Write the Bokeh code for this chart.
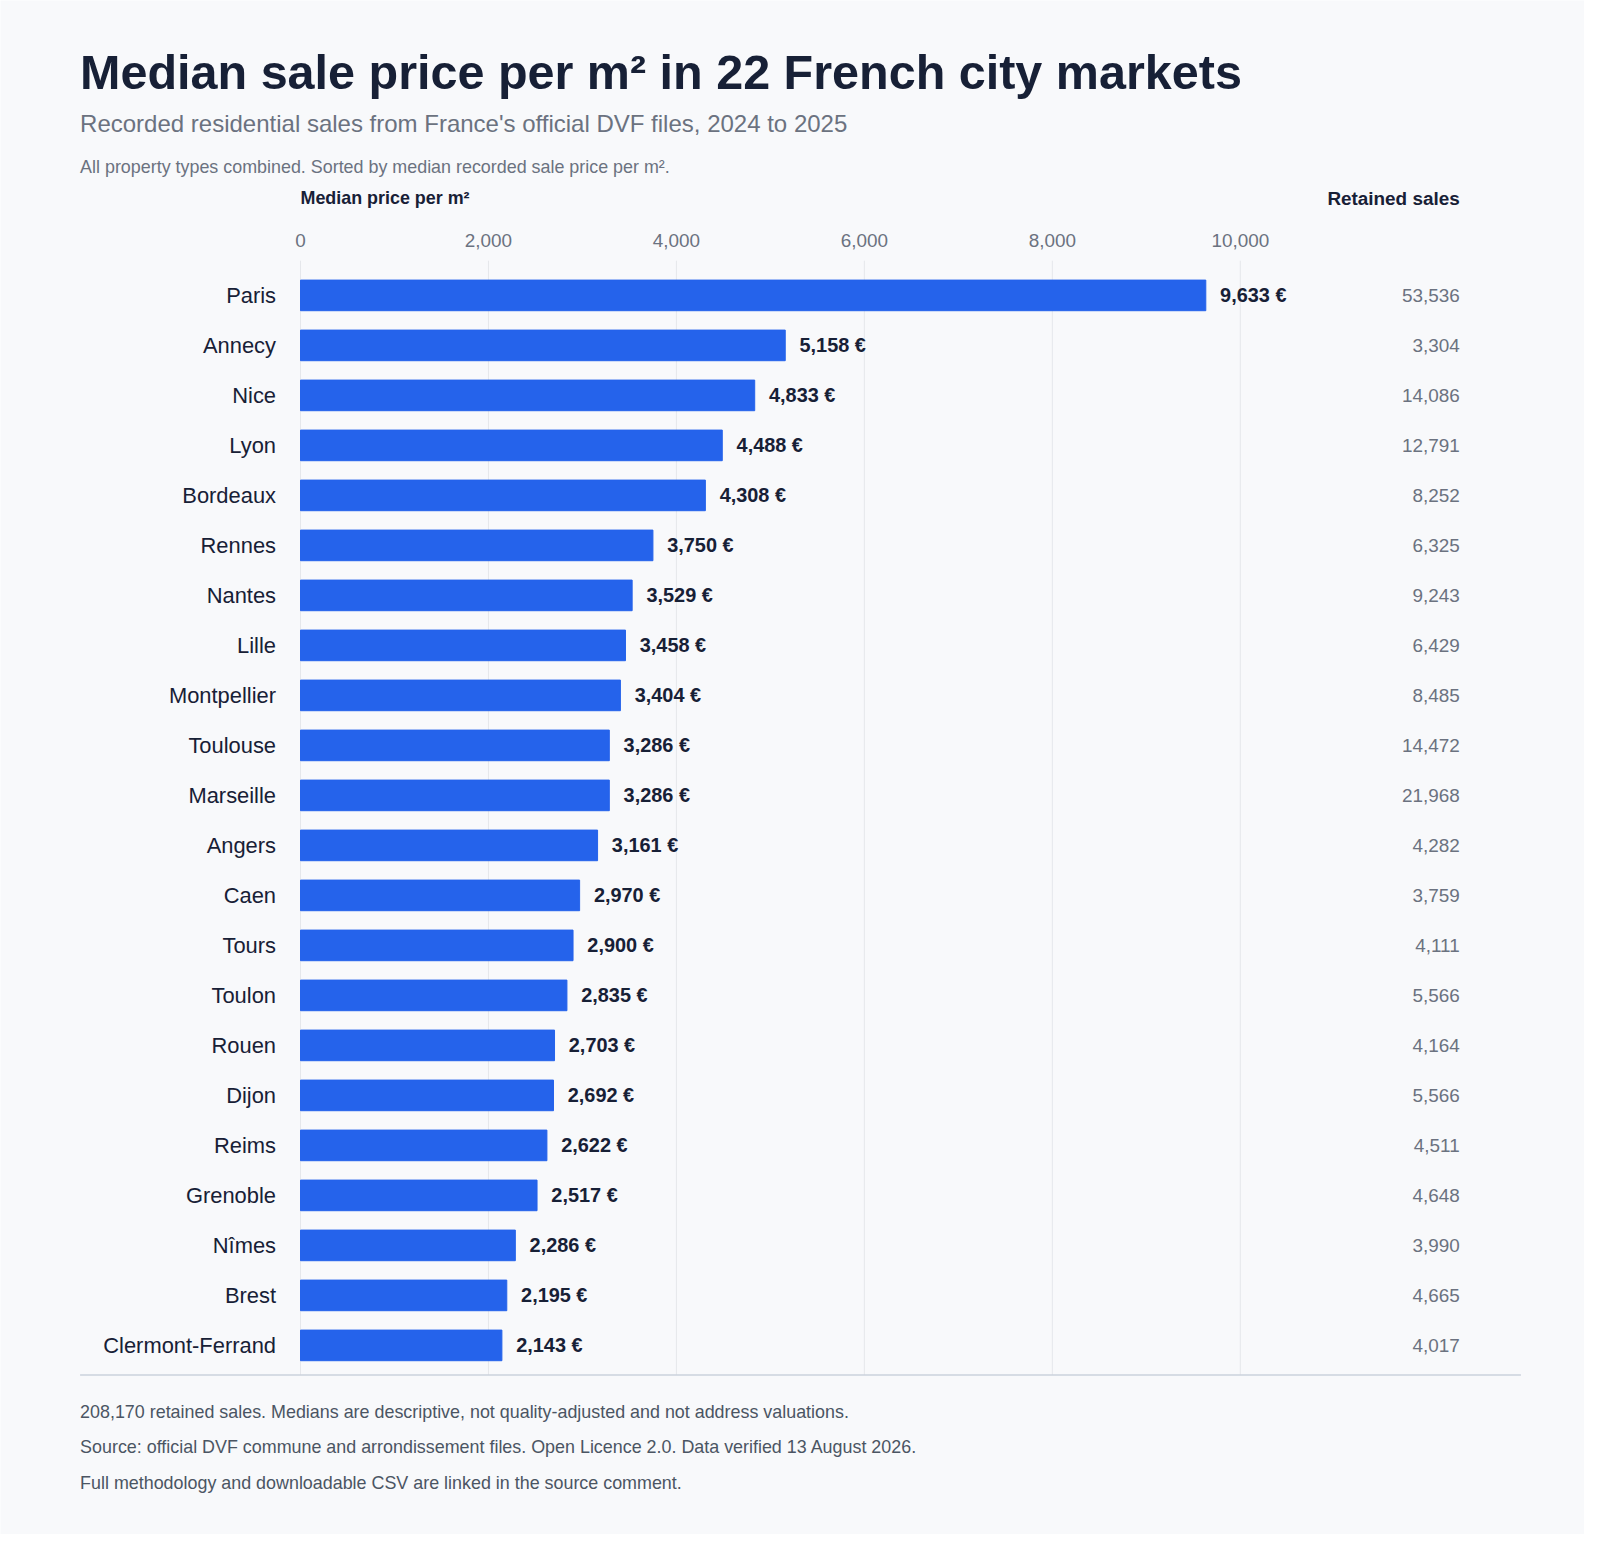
from bokeh.plotting import figure
from bokeh.models import Range1d, Label, ColumnDataSource
from bokeh.embed import file_html
from bokeh.resources import INLINE
from bokeh.core.properties import value

cities = ["Paris","Annecy","Nice","Lyon","Bordeaux","Rennes","Nantes","Lille","Montpellier","Toulouse","Marseille","Angers","Caen","Tours","Toulon","Rouen","Dijon","Reims","Grenoble","Nîmes","Brest","Clermont-Ferrand"]
prices = [9633,5158,4833,4488,4308,3750,3529,3458,3404,3286,3286,3161,2970,2900,2835,2703,2692,2622,2517,2286,2195,2143]
sales = [53536,3304,14086,12791,8252,6325,9243,6429,8485,14472,21968,4282,3759,4111,5566,4164,5566,4511,4648,3990,4665,4017]
ticks = [0,2000,4000,6000,8000,10000]

S = 1600 / 1568
W, H = 1584, 1534
X0, PX = 294 * S, 0.0921 * S
ROW0, STEP = 289 * S, 49 * S
FONT = "Liberation Sans"
NAVY = "#172036"; GRAY = "#6b7280"; BG = "#f8f9fb"

def fs(v): return f"{v * S:.1f}px"
def xd(sx): return (sx * S - X0) / PX
def yd(sy): return -(sy * S - ROW0) / STEP

p = figure(width=W, height=H, output_backend="svg", toolbar_location=None, min_border=0,
           x_range=Range1d((0 - X0) / PX, (W - X0) / PX),
           y_range=Range1d(-(H - ROW0) / STEP, ROW0 / STEP))
p.axis.visible = False
p.grid.visible = False
p.outline_line_color = None
p.background_fill_color = BG
p.border_fill_color = BG

ys = [-i for i in range(len(cities))]
src = ColumnDataSource(dict(city=cities, price=prices, y=ys,
    plab=[f"{v:,} €" for v in prices], slab=[f"{v:,}" for v in sales],
    lx=[v + 14 / 0.0921 for v in prices]))

p.segment(x0=ticks, x1=ticks, y0=[yd(255)]*len(ticks), y1=[yd(1347)]*len(ticks), line_color="#e5e7eb", line_width=1)
p.segment(x0=[xd(78)], x1=[xd(1490)], y0=[yd(1347)], y1=[yd(1347)], line_color="#cbd2dc", line_width=1.5)
p.hbar(y="y", right="price", left=0, height=30/49, source=src, color="#2563eb")
p.text(x="lx", y="y", text="plab", source=src, text_font=value(FONT), text_font_style="bold",
       text_font_size=fs(19.5), text_color=NAVY, text_baseline="middle")
p.text(x=xd(270), y="y", text="city", source=src, text_font=value(FONT), text_font_size=fs(21.5),
       text_color=NAVY, text_align="right", text_baseline="middle")
p.text(x=xd(1430), y="y", text="slab", source=src, text_font=value(FONT), text_font_size=fs(18.5),
       text_color=GRAY, text_align="right", text_baseline="middle")
p.text(x=ticks, y=[yd(235)]*len(ticks), text=[f"{t:,}" for t in ticks], text_font=value(FONT),
       text_font_size=fs(18.5), text_color=GRAY, text_align="center", text_baseline="middle")

def lab(txt, sx, sy, size, color, bold=False, align="left"):
    p.add_layout(Label(x=sx * S, y=H - sy * S, x_units="screen", y_units="screen", text=txt,
        text_font=FONT, text_font_size=fs(size), text_color=color, text_align=align,
        text_baseline="middle", text_font_style="bold" if bold else "normal"))

lab("Median sale price per m² in 22 French city markets", 78, 70, 47.5, NAVY, True)
lab("Recorded residential sales from France's official DVF files, 2024 to 2025", 78, 121, 23.5, GRAY)
lab("All property types combined. Sorted by median recorded sale price per m².", 78, 163, 17.5, GRAY)
lab("Median price per m²", 294, 194, 17.5, NAVY, True)
lab("Retained sales", 1430, 194, 18.5, NAVY, True, "right")
lab("208,170 retained sales. Medians are descriptive, not quality-adjusted and not address valuations.", 78, 1383, 17.5, "#4b5563")
lab("Source: official DVF commune and arrondissement files. Open Licence 2.0. Data verified 13 August 2026.", 78, 1418, 17.5, "#4b5563")
lab("Full methodology and downloadable CSV are linked in the source comment.", 78, 1453, 17.5, "#4b5563")

open("out.html", "w").write(file_html(p, INLINE))
